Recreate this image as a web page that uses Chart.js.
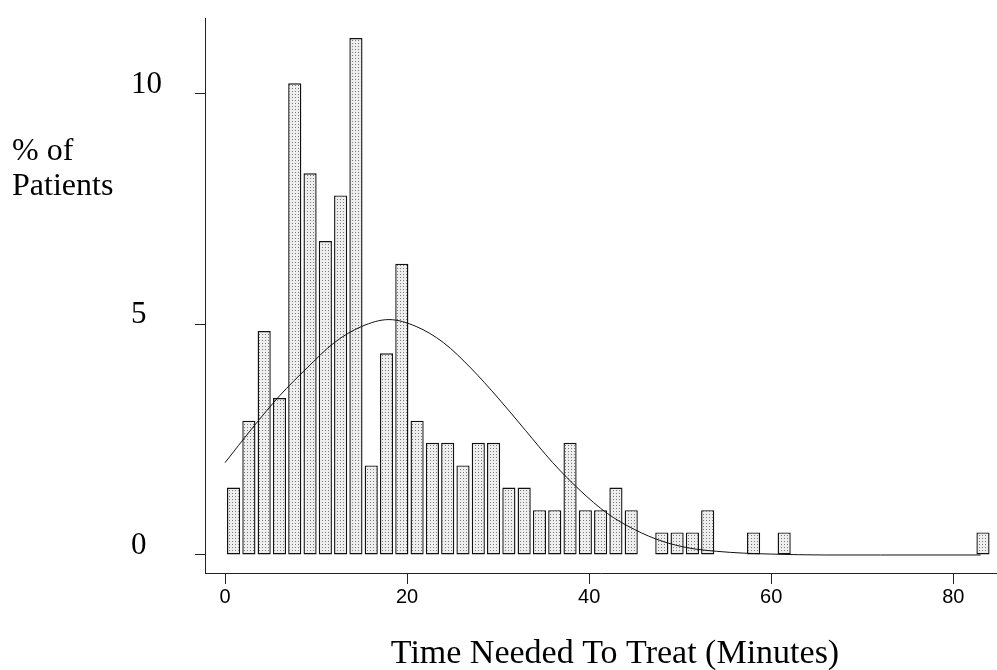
<!DOCTYPE html>
<html>
<head>
<meta charset="utf-8">
<title>Time Needed To Treat</title>
<script src="https://cdn.jsdelivr.net/npm/chart.js@4.4.0/dist/chart.umd.min.js"></script>
<style>
  html, body { margin: 0; padding: 0; background: #fff; }
  #wrap { width: 997px; height: 670px; }
</style>
</head>
<body>
<div id="wrap"><canvas id="histChart" width="997" height="670"></canvas></div>
<script>
// histogram bins, minutes
const binStart = 0.1;
const binWidth = 1.68;

// % of patients in each bin (null = empty bin)
const binPercents = [
  1.46, 2.91, 4.85, 3.40, 10.22, 8.27, 6.80, 7.79, 11.20, 1.94,
  4.37, 6.31, 2.91, 2.43, 2.43, 1.94, 2.43, 2.43, 1.46, 1.46,
  0.97, 0.97, 2.43, 0.97, 0.97, 1.46, 0.97, null, 0.49, 0.49,
  0.49, 0.97, null, null, 0.49, null, 0.49, null, null, null,
  null, null, null, null, null, null, null, null, null, 0.49
];

// fitted curve
const curveMinutes  = [0, 3, 6, 9, 12, 15, 18, 21, 24, 27, 30, 33, 36, 39, 42, 45, 48, 51, 54, 57, 60, 66, 72, 83];
const curvePercents = [2.0, 2.75, 3.45, 4.05, 4.6, 4.95, 5.1, 4.95, 4.6, 4.05, 3.4, 2.7, 2.0, 1.4, 0.9, 0.55, 0.3, 0.15, 0.08, 0.04, 0.02, 0.0, 0.0, 0.0];

const xTicks = [0, 20, 40, 60, 80];
const yTicks = [0, 5, 10];
const xTitle = 'Time Needed To Treat (Minutes)';
const yTitleLines = ['% of', 'Patients'];

const canvas = document.getElementById('histChart');
const ctx = canvas.getContext('2d');

function dotPattern() {
    const c = document.createElement('canvas');
    c.width = 3; c.height = 3;
    const g = c.getContext('2d');
    g.fillStyle = '#eeeeee';
    g.fillRect(0, 0, 3, 3);
    g.fillStyle = '#7a7a7a';
    g.fillRect(1, 1, 1, 1);
    return ctx.createPattern(c, 'repeat');
}

const barData = binPercents.map((p, i) => ({ x: binStart + binWidth * (i + 0.5), y: p }));
const curveData = curveMinutes.map((m, i) => ({ x: m, y: curvePercents[i] }));

// axis titles drawn horizontally, where the original puts them
const titlesPlugin = {
    id: 'titles',
    afterDraw(chart) {
        const c = chart.ctx;
        c.save();
        c.fillStyle = '#000';
        c.font = '32px "Liberation Serif"';
        c.textBaseline = 'middle';
        c.textAlign = 'left';
        yTitleLines.forEach((t, i) => c.fillText(t, 12, 152 + i * 35));
        c.font = '34px "Liberation Serif"';
        c.textAlign = 'center';
        c.textBaseline = 'alphabetic';
        c.fillText(xTitle, 615, 663);
        c.restore();
    }
};

new Chart(ctx, {
    type: 'bar',
    data: {
        datasets: [
            {
                type: 'line',
                data: curveData,
                borderColor: '#111',
                borderWidth: 1,
                pointRadius: 0,
                cubicInterpolationMode: 'monotone',
                fill: false,
                order: 0
            },
            {
                type: 'bar',
                data: barData,
                backgroundColor: dotPattern(),
                borderColor: '#111',
                borderWidth: 1.4,
                borderSkipped: false,
                barPercentage: 0.86,
                categoryPercentage: 1,
                order: 1
            }
        ]
    },
    options: {
        responsive: false,
        animation: false,
        layout: { padding: { left: 131, top: 16, right: 0, bottom: 0 } },
        plugins: { legend: { display: false }, tooltip: { enabled: false } },
        scales: {
            x: {
                type: 'linear',
                min: -2.2,
                max: 84.8,
                offset: false,
                afterBuildTicks: s => { s.ticks = xTicks.map(v => ({ value: v })); },
                afterFit: s => { s.height = 97; },
                grid: { offset: false, drawOnChartArea: false, tickLength: 11, color: '#222', lineWidth: 1 },
                border: { display: true, color: '#222', width: 1 },
                ticks: { padding: 1, maxRotation: 0, color: '#000', font: { family: 'Liberation Sans', size: 20 } }
            },
            y: {
                type: 'linear',
                min: -0.39,
                max: 11.62,
                afterBuildTicks: s => { s.ticks = yTicks.map(v => ({ value: v })); },
                afterFit: s => { s.width = 74; },
                grid: { drawOnChartArea: false, tickLength: 10, color: '#222', lineWidth: 1 },
                border: { display: true, color: '#222', width: 1 },
                ticks: { crossAlign: 'far', labelOffset: -9, padding: 0, color: '#000', font: { family: 'Liberation Serif', size: 31 } }
            }
        }
    },
    plugins: [titlesPlugin]
});
</script>
</body>
</html>
